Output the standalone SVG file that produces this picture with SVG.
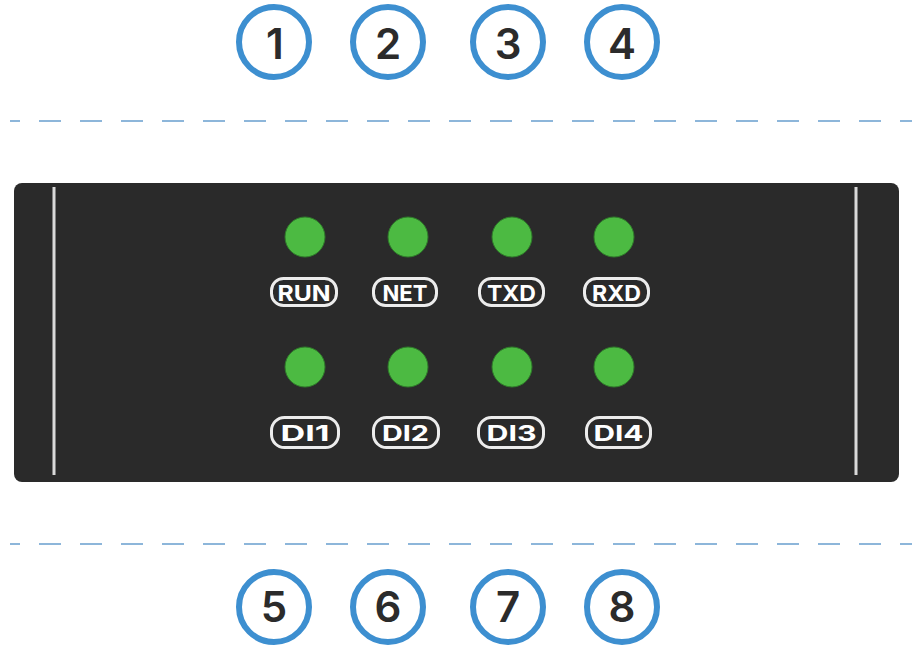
<svg xmlns="http://www.w3.org/2000/svg" width="912" height="645" viewBox="0 0 912 645">
  <style>
    .num-ring { fill: #ffffff; stroke: #3d8fd0; stroke-width: 6; }
    .num { font-family: Inter, "Liberation Sans", Arial, sans-serif; font-weight: 600; font-size: 42px; fill: #2b2b2b; text-anchor: middle; }
    .divider { stroke: #8db6da; stroke-width: 2; stroke-dasharray: 22 19; stroke-dashoffset: 12; fill: none; }
    .panel { fill: #2a2a2a; }
    .rail { stroke: #d9d9d9; stroke-width: 3; }
    .led { fill: #4cba42; stroke: #2f7a2a; stroke-width: 1; }
    .tag { fill: #2a2a2a; stroke: #ececec; stroke-width: 3; }
    .tag-text { font-family: Inter, "Liberation Sans", Arial, sans-serif; font-weight: 700; font-size: 22px; fill: #ffffff; text-anchor: middle; }
  </style>

  <rect width="912" height="645" fill="#ffffff"/>

  <!-- dashed dividers -->
  <g id="dividers">
    <line class="divider" x1="10" y1="121" x2="912" y2="121"/>
    <line class="divider" x1="10" y1="544" x2="912" y2="544"/>
  </g>

  <!-- numbered markers, top row -->
  <g id="marker-1"><circle class="num-ring" cx="274" cy="42" r="35"/><text class="num" x="275" y="59">1</text></g>
  <g id="marker-2"><circle class="num-ring" cx="388" cy="42" r="35"/><text class="num" x="388" y="59">2</text></g>
  <g id="marker-3"><circle class="num-ring" cx="508" cy="42" r="35"/><text class="num" x="508" y="59">3</text></g>
  <g id="marker-4"><circle class="num-ring" cx="622" cy="42" r="35"/><text class="num" x="622" y="59">4</text></g>

  <!-- device front panel -->
  <g id="panel">
    <rect class="panel" x="14" y="183" width="885" height="299" rx="8"/>
    <line class="rail" x1="54" y1="187" x2="54" y2="475"/>
    <line class="rail" x1="856" y1="187" x2="856" y2="475"/>
  </g>

  <!-- status LEDs, top row -->
  <g id="led-run">
    <circle class="led" cx="305" cy="237" r="20"/>
    <rect class="tag" x="271.5" y="278.5" width="65" height="27" rx="12"/>
    <text class="tag-text" x="304" y="300.5" textLength="53" lengthAdjust="spacingAndGlyphs">RUN</text>
  </g>
  <g id="led-net">
    <circle class="led" cx="408" cy="237" r="20"/>
    <rect class="tag" x="373.5" y="278.5" width="63" height="27" rx="12"/>
    <text class="tag-text" x="405" y="300.5" textLength="45" lengthAdjust="spacingAndGlyphs">NET</text>
  </g>
  <g id="led-txd">
    <circle class="led" cx="512" cy="237" r="20"/>
    <rect class="tag" x="479.5" y="278.5" width="64" height="27" rx="12"/>
    <text class="tag-text" x="511.5" y="300.5" textLength="49" lengthAdjust="spacingAndGlyphs">TXD</text>
  </g>
  <g id="led-rxd">
    <circle class="led" cx="614" cy="237" r="20"/>
    <rect class="tag" x="584.5" y="278.5" width="64" height="27" rx="12"/>
    <text class="tag-text" x="616.5" y="300.5" textLength="49" lengthAdjust="spacingAndGlyphs">RXD</text>
  </g>

  <!-- digital input LEDs, bottom row -->
  <g id="led-di1">
    <circle class="led" cx="305" cy="367" r="20"/>
    <rect class="tag" x="271.5" y="417.5" width="67" height="30" rx="13"/>
    <text class="tag-text" x="305" y="441" textLength="49" lengthAdjust="spacingAndGlyphs">DI1</text>
  </g>
  <g id="led-di2">
    <circle class="led" cx="408" cy="367" r="20"/>
    <rect class="tag" x="373.5" y="417.5" width="65" height="30" rx="13"/>
    <text class="tag-text" x="405.5" y="441" textLength="47" lengthAdjust="spacingAndGlyphs">DI2</text>
  </g>
  <g id="led-di3">
    <circle class="led" cx="512" cy="367" r="20"/>
    <rect class="tag" x="478.5" y="417.5" width="65" height="30" rx="13"/>
    <text class="tag-text" x="511.5" y="441" textLength="50" lengthAdjust="spacingAndGlyphs">DI3</text>
  </g>
  <g id="led-di4">
    <circle class="led" cx="614" cy="367" r="20"/>
    <rect class="tag" x="586.5" y="417.5" width="64" height="30" rx="13"/>
    <text class="tag-text" x="618.5" y="441" textLength="50" lengthAdjust="spacingAndGlyphs">DI4</text>
  </g>

  <!-- numbered markers, bottom row -->
  <g id="marker-5"><circle class="num-ring" cx="274" cy="607" r="35"/><text class="num" x="274" y="622">5</text></g>
  <g id="marker-6"><circle class="num-ring" cx="388" cy="607" r="35"/><text class="num" x="388" y="622">6</text></g>
  <g id="marker-7"><circle class="num-ring" cx="508" cy="607" r="35"/><text class="num" x="508" y="622">7</text></g>
  <g id="marker-8"><circle class="num-ring" cx="622" cy="607" r="35"/><text class="num" x="622" y="622">8</text></g>
</svg>
